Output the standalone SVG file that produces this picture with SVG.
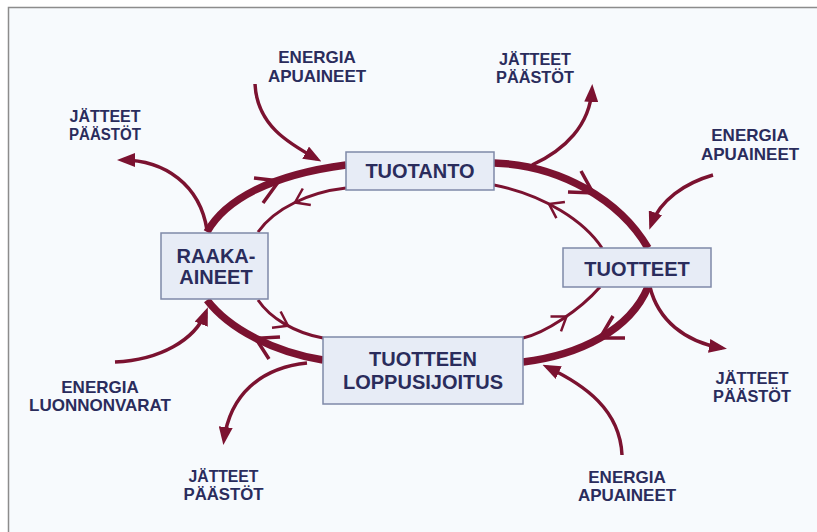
<svg xmlns="http://www.w3.org/2000/svg" width="817" height="532" viewBox="0 0 817 532">
  <defs>
    <style>
      .bg { fill: #f7fafd; stroke: #8c8c8c; stroke-width: 1.5; }
      .box { fill: #e7ecf6; stroke: #7f89a8; stroke-width: 1.5; }
      .nlabel { font-family: "Liberation Sans", Arial, sans-serif; font-weight: bold; font-size: 20px; fill: #2a2c5c; text-anchor: middle; }
      .label { font-family: "Liberation Sans", Arial, sans-serif; font-weight: bold; font-size: 17px; fill: #2a2c5c; text-anchor: middle; }
      .jl { font-size: 16px; }
      .thick { fill: none; stroke: #7b1230; stroke-width: 7.5; stroke-linecap: butt; }
      .thin { fill: none; stroke: #7b1230; stroke-width: 3; stroke-linecap: butt; }
      .side { fill: none; stroke: #7b1230; stroke-width: 3.5; stroke-linecap: butt; marker-end: url(#ah); }
      .chevT { fill: none; stroke: #7b1230; stroke-width: 3.5; stroke-linejoin: miter; }
      .chevt { fill: none; stroke: #7b1230; stroke-width: 2.5; stroke-linejoin: miter; }
    </style>
    <marker id="ah" markerUnits="userSpaceOnUse" markerWidth="18" markerHeight="14" viewBox="0 0 18 14" refX="13" refY="7" orient="auto">
      <path d="M0,0 L18,7 L0,14 z" fill="#7b1230"/>
    </marker>
  </defs>

  <rect x="0" y="0" width="817" height="532" fill="#ffffff"/>
  <rect class="bg" x="8.5" y="7.5" width="830" height="540"/>

  <g id="connectors">
    <!-- outer thick cycle (clockwise) -->
    <path class="thick" d="M207,232 C225,200 270,175 346,165"/>
    <path class="thick" d="M494,163 C560,165 620,200 648,248"/>
    <path class="thick" d="M648,287 C630,330 580,355 523,362"/>
    <path class="thick" d="M323,360 C275,352 230,330 207,300"/>
    <path class="chevT" d="M254,178 L279,181 L263,203"/>
    <path class="chevT" d="M568,192 L593,193 L581,171"/>
    <path class="chevT" d="M613,316 L600,338 L625,338"/>
    <path class="chevT" d="M280,337 L255.6,338.3 L269,359"/>

    <!-- inner thin cycle (counter-clockwise) -->
    <path class="thin" d="M346,188 C310,192 275,208 258,232"/>
    <path class="thin" d="M602,248 C585,222 545,195 494,185"/>
    <path class="thin" d="M258,300 C270,318 295,333 323,338"/>
    <path class="thin" d="M523,338 C545,333 580,310 600,287"/>
    <path class="chevt" d="M302.8,188.5 L295,202.5 L310.8,205"/>
    <path class="chevt" d="M564.9,201.9 L549,204 L556.4,218.2"/>
    <path class="chevt" d="M280.6,311.5 L288,325.8 L272,327.7"/>
    <path class="chevt" d="M550.5,316.4 L566.5,316.4 L561,331.4"/>

    <!-- inputs and outputs -->
    <path class="side" d="M207,230 C200,185 165,160 122,160"/>
    <path class="side" d="M255,84 C257,125 288,143 317,159"/>
    <path class="side" d="M532,165 C565,150 590,125 592,89"/>
    <path class="side" d="M713,175 C685,183 660,200 651,225"/>
    <path class="side" d="M650,287 C658,320 685,342 722,348"/>
    <path class="side" d="M622,455 C620,410 585,385 547,367"/>
    <path class="side" d="M307,363 C260,368 230,395 224,440"/>
    <path class="side" d="M115,362 C160,360 195,340 206,312"/>
  </g>

  <g id="tuotanto">
    <rect class="box" x="346" y="152" width="148" height="38"/>
    <text class="nlabel" x="420" y="177.5">TUOTANTO</text>
  </g>
  <g id="raaka-aineet">
    <rect class="box" x="161" y="233" width="107" height="66"/>
    <text class="nlabel" x="216" y="263">RAAKA-</text>
    <text class="nlabel" x="216" y="284">AINEET</text>
  </g>
  <g id="tuotteet">
    <rect class="box" x="563" y="248" width="148" height="39"/>
    <text class="nlabel" x="637" y="276">TUOTTEET</text>
  </g>
  <g id="tuotteen-loppusijoitus">
    <rect class="box" x="323" y="337" width="200" height="67"/>
    <text class="nlabel" x="423" y="365.5">TUOTTEEN</text>
    <text class="nlabel" x="423" y="389">LOPPUSIJOITUS</text>
  </g>

  <g id="energia-apuaineet-1">
    <text class="label" x="317" y="63">ENERGIA</text>
    <text class="label" x="317" y="81.5">APUAINEET</text>
  </g>
  <g id="jatteet-paastot-1">
    <text class="label jl" x="105" y="121.5" textLength="71" lengthAdjust="spacingAndGlyphs">JÄTTEET</text>
    <text class="label jl" x="105" y="139.5" textLength="72" lengthAdjust="spacingAndGlyphs">PÄÄSTÖT</text>
  </g>
  <g id="jatteet-paastot-2">
    <text class="label jl" x="535" y="64.5" textLength="72" lengthAdjust="spacingAndGlyphs">JÄTTEET</text>
    <text class="label jl" x="535" y="82.5" textLength="78" lengthAdjust="spacingAndGlyphs">PÄÄSTÖT</text>
  </g>
  <g id="energia-apuaineet-2">
    <text class="label" x="750" y="141">ENERGIA</text>
    <text class="label" x="750" y="160">APUAINEET</text>
  </g>
  <g id="jatteet-paastot-3">
    <text class="label jl" x="752" y="384" textLength="73" lengthAdjust="spacingAndGlyphs">JÄTTEET</text>
    <text class="label jl" x="752" y="402" textLength="78" lengthAdjust="spacingAndGlyphs">PÄÄSTÖT</text>
  </g>
  <g id="energia-apuaineet-3">
    <text class="label" x="627" y="483">ENERGIA</text>
    <text class="label" x="627" y="501">APUAINEET</text>
  </g>
  <g id="jatteet-paastot-4">
    <text class="label jl" x="223.5" y="482" textLength="70" lengthAdjust="spacingAndGlyphs">JÄTTEET</text>
    <text class="label jl" x="223.5" y="500" textLength="80" lengthAdjust="spacingAndGlyphs">PÄÄSTÖT</text>
  </g>
  <g id="energia-luonnonvarat">
    <text class="label" x="100" y="393">ENERGIA</text>
    <text class="label" x="100" y="411">LUONNONVARAT</text>
  </g>
</svg>
